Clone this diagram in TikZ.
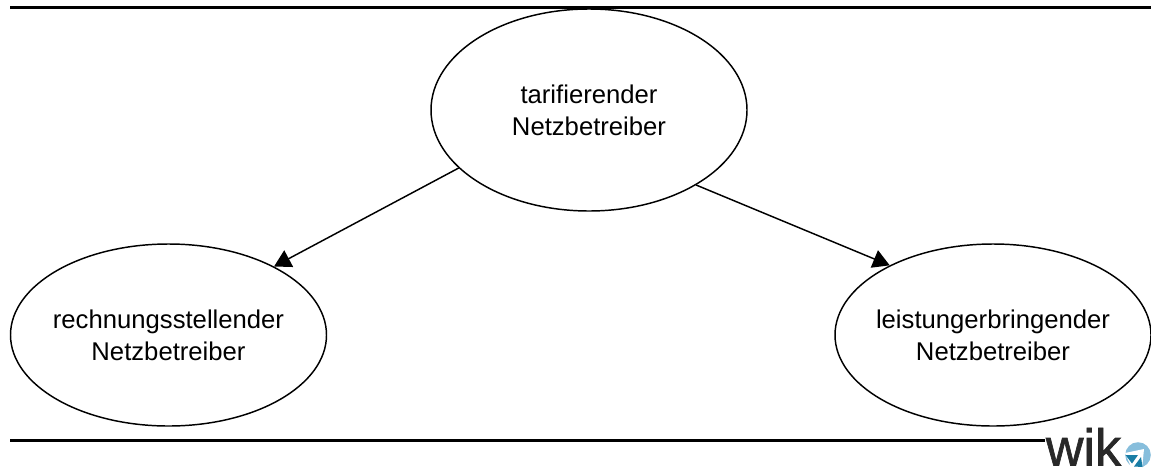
\documentclass[tikz,border=0pt]{standalone}
\usepackage{fontspec}
\setmainfont{Liberation Sans}
\newfontfamily\wikfont[FakeBold=1.2]{Liberation Sans}
\usetikzlibrary{arrows.meta,shapes.geometric}
\definecolor{wikgrey}{RGB}{40,40,40}
\definecolor{wiklight}{RGB}{135,190,220}
\definecolor{wikdark}{RGB}{25,125,165}
\tikzset{party/.style={draw, ellipse, line width=1.1pt, minimum width=316*0.75pt, minimum height=182*0.75pt, inner xsep=-20pt, inner ysep=0pt, align=center, font=\fontsize{19.25}{24}\selectfont},
  rule/.style={line width=2.3pt},
  link/.style={line width=1.1pt, -{Triangle[length=12.5pt,width=14pt]}}}

\begin{document}
\begin{tikzpicture}[x=0.75pt,y=-0.75pt]
   \useasboundingbox (0,0) rectangle (1151,468);
   \draw[rule] (10,7.5) -- (1151,7.5);
   \draw[rule] (10,440.5) -- (1045,440.5);
   \node[party, minimum height=202*0.75pt] (tarif) at (589,110) {tarifierender\\Netzbetreiber};
   \node[party] (rechnung) at (168.5,335) {rechnungsstellender\\Netzbetreiber};
   \node[party] (leistung) at (993,335) {leistungerbringender\\Netzbetreiber};
   \draw[link] (tarif.204.6) -- (rechnung.33.4);
   \draw[link] (tarif.325) -- (leistung.146.2);
   \node[inner sep=0pt, text=wikgrey, font=\wikfont\fontsize{39}{39}\selectfont, anchor=base] (wik) at (1083.5,465.5) {wik};
   \begin{scope}[shift={(1138,455)}]
    \fill[wiklight] (0,0) circle(12.8);
    \fill[white] (-13,-2) -- (6,-6) -- (4,14) -- (-6,14) -- cycle;
    \fill[wikdark] (-12.5,0) -- (0,0) -- (-6,8.5) -- cycle;
    \fill[wikdark] (-4,11.5) -- (3,2) -- (4.5,12) -- cycle;
   \end{scope}
  \end{tikzpicture}
\end{document}
